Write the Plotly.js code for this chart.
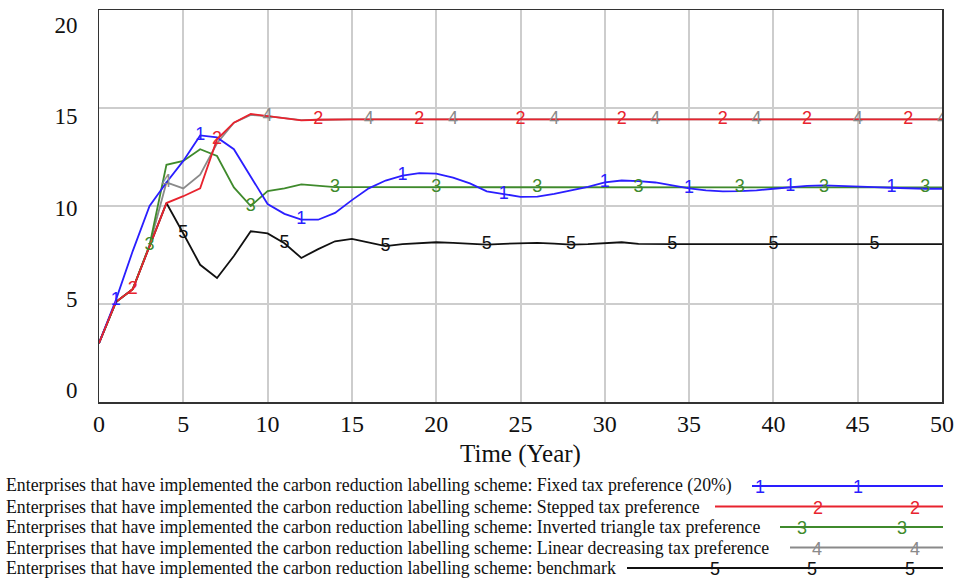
<!DOCTYPE html>
<html>
<head>
<meta charset="utf-8">
<script src="https://cdn.plot.ly/plotly-3.0.1.min.js"></script>
<style>html,body{margin:0;padding:0;background:#fff;}#chart{width:956px;height:581px;}</style>
</head>
<body>
<div id="chart"></div>
<script>
// ---- data ----
const years = Array.from({length: 51}, (_, i) => i);

const fixedTax = [3.0, 5.2, 7.7, 10.0, 11.2, 12.3, 13.6, 13.5, 12.9, 11.5,
  10.1, 9.6, 9.3, 9.3, 9.65, 10.3, 10.9, 11.3, 11.55, 11.68,
  11.65, 11.45, 11.15, 10.75, 10.6, 10.47, 10.48, 10.62, 10.8, 10.98,
  11.2, 11.3, 11.27, 11.2, 11.05, 10.9, 10.8, 10.75, 10.76, 10.8,
  10.88, 10.97, 11.03, 11.05, 11.03, 11.0, 10.96, 10.93, 10.9, 10.88, 10.88];

const steppedTax = [3.0, 5.1, 5.75, 8.0, 10.15, 10.5, 10.9, 13.4, 14.25, 14.7,
  14.58, 14.48, 14.37, 14.4, 14.42, 14.42, 14.42, 14.42, 14.42, 14.42,
  14.42, 14.42, 14.42, 14.42, 14.42, 14.42, 14.42, 14.42, 14.42, 14.42,
  14.42, 14.42, 14.42, 14.42, 14.42, 14.42, 14.42, 14.42, 14.42, 14.42,
  14.42, 14.42, 14.42, 14.42, 14.42, 14.42, 14.42, 14.42, 14.42, 14.42, 14.42];

const invertedTriangleTax = [3.0, 5.1, 5.75, 8.0, 12.1, 12.3, 12.9, 12.55, 10.95, 10.0,
  10.76, 10.9, 11.1, 11.03, 10.96, 10.96, 10.96, 10.96, 10.96, 10.96,
  10.96, 10.96, 10.96, 10.96, 10.96, 10.96, 10.96, 10.96, 10.96, 10.96,
  10.96, 10.96, 10.96, 10.96, 10.96, 10.96, 10.96, 10.96, 10.96, 10.96,
  10.96, 10.96, 10.96, 10.96, 10.96, 10.95, 10.95, 10.95, 10.95, 10.95, 10.95];

const linearDecreasingTax = [3.0, 5.1, 5.75, 8.0, 11.2, 10.9, 11.6, 13.2, 14.25, 14.65,
  14.58, 14.48, 14.38, 14.4, 14.42, 14.42, 14.42, 14.42, 14.42, 14.42,
  14.42, 14.42, 14.42, 14.42, 14.42, 14.42, 14.42, 14.42, 14.42, 14.42,
  14.42, 14.42, 14.42, 14.42, 14.42, 14.42, 14.42, 14.42, 14.42, 14.42,
  14.42, 14.42, 14.42, 14.42, 14.42, 14.42, 14.42, 14.42, 14.42, 14.42, 14.42];

const benchmark = [3.0, 5.1, 5.75, 8.0, 10.15, 8.6, 7.0, 6.33, 7.45, 8.71,
  8.6, 8.1, 7.35, 7.8, 8.2, 8.32, 8.15, 7.95, 8.05, 8.1,
  8.15, 8.12, 8.08, 8.03, 8.07, 8.1, 8.12, 8.08, 8.03, 8.05,
  8.1, 8.15, 8.07, 8.05, 8.05, 8.05, 8.05, 8.05, 8.05, 8.05,
  8.05, 8.05, 8.05, 8.05, 8.05, 8.05, 8.05, 8.05, 8.05, 8.05, 8.05];

// years where each series' identifying digit is printed on its curve
const labelYears1 = [1, 6, 12, 18, 24, 30, 35, 41, 47];
const labelYears2 = [2, 7, 13, 19, 25, 31, 37, 42, 48];
const labelYears3 = [3, 9, 14, 20, 26, 32, 38, 43, 49];
const labelYears4 = [4, 10, 16, 21, 27, 33, 39, 45, 50];
const labelYears5 = [5, 11, 17, 23, 28, 34, 40, 46];

const legendPrefix = "Enterprises that have implemented the carbon reduction labelling scheme: ";
const seriesNames = ["Fixed tax preference (20%)", "Stepped tax preference",
  "Inverted triangle tax preference", "Linear decreasing tax preference", "benchmark"];
const seriesDigits = ["1", "2", "3", "4", "5"];

const xTicks = [0, 5, 10, 15, 20, 25, 30, 35, 40, 45, 50];
const yTicks = [0, 5, 10, 15, 20];

// ---- styling ----
const colors = ["#2a1eff", "#e8232e", "#3f8a2c", "#8a8a8a", "#111111"];
const serif = "'Liberation Serif', 'Times New Roman', serif";
const sans = "'Liberation Sans', Arial, sans-serif";

const series = [fixedTax, steppedTax, invertedTriangleTax, linearDecreasingTax, benchmark];
const labelYears = [labelYears1, labelYears2, labelYears3, labelYears4, labelYears5];

const drawOrder = [3, 4, 2, 0, 1];
const traces = [];
drawOrder.forEach(i => {
  traces.push({
    x: years, y: series[i], type: 'scatter', mode: 'lines',
    line: {color: colors[i], width: 1.8}, hoverinfo: 'skip', showlegend: false
  });
});
drawOrder.forEach(i => {
  traces.push({
    x: labelYears[i], y: labelYears[i].map(t => series[i][t]),
    type: 'scatter', mode: 'text', text: labelYears[i].map(() => seriesDigits[i]),
    textposition: 'middle center',
    textfont: {family: sans, size: 18, color: colors[i]},
    hoverinfo: 'skip', showlegend: false
  });
});
// invisible trace so the label axis (Vensim-style evenly spread labels) is drawn
traces.push({x: [0], y: [0], yaxis: 'y2', type: 'scatter', mode: 'markers',
  marker: {opacity: 0}, hoverinfo: 'skip', showlegend: false});

// ---- custom legend below the plot ----
const L = 99, R = 14, T = 10, B = 179, W = 956, H = 581;
const pw = W - L - R, ph = H - T - B;
const px2x = p => (p - L) / pw;
const py2y = p => (H - B - p) / ph;

const legendRows = [486, 506.5, 527, 547.5, 568];
const legendLineStart = [752, 715, 780, 790, 627];
const legendDigitPos = [[760, 858], [818, 915], [802, 902], [817, 915], [715, 812, 910]];

const shapes = [];
const annotations = [];
legendRows.forEach((ry, i) => {
  annotations.push({
    xref: 'paper', yref: 'paper', x: px2x(4), y: py2y(ry),
    xanchor: 'left', yanchor: 'middle', showarrow: false,
    text: legendPrefix + seriesNames[i],
    font: {family: serif, size: 17.8, color: '#111'}
  });
  shapes.push({
    type: 'line', xref: 'paper', yref: 'paper',
    x0: px2x(legendLineStart[i]), x1: px2x(943), y0: py2y(ry), y1: py2y(ry),
    line: {color: colors[i], width: 1.8}
  });
  legendDigitPos[i].forEach(dx => {
    annotations.push({
      xref: 'paper', yref: 'paper', x: px2x(dx), y: py2y(ry + 1),
      xanchor: 'center', yanchor: 'middle', showarrow: false,
      text: seriesDigits[i], font: {family: sans, size: 18, color: colors[i]}
    });
  });
});

// label axis: values 0 and 20 sit at the pixel rows where the reference prints them
const labelLow = -12 / 18.25, labelHigh = 20 + 15 / 18.25;

const layout = {
  width: W, height: H,
  margin: {l: L, r: R, t: T, b: B, pad: 0},
  paper_bgcolor: '#fff', plot_bgcolor: '#fff',
  showlegend: false,
  xaxis: {
    range: [0, 50], tickvals: xTicks, ticktext: xTicks.map(String),
    showgrid: true, gridcolor: '#cdcdcd', gridwidth: 2, zeroline: false,
    showline: true, mirror: true, linecolor: '#333', linewidth: 1.5,
    ticks: '', ticklen: 0,
    tickfont: {family: serif, size: 24, color: '#111'},
    title: {text: 'Time (Year)', font: {family: serif, size: 25, color: '#111'}, standoff: 8}
  },
  yaxis: {
    range: [0, 20], tickvals: yTicks, showticklabels: false,
    showgrid: true, gridcolor: '#cdcdcd', gridwidth: 2, zeroline: false,
    showline: true, mirror: true, linecolor: '#333', linewidth: 1.5,
    ticks: ''
  },
  yaxis2: {
    overlaying: 'y', side: 'left', range: [labelLow, labelHigh],
    tickvals: yTicks, ticktext: yTicks.map(String),
    showgrid: false, zeroline: false, showline: false,
    ticks: 'outside', ticklen: 16, tickcolor: 'rgba(0,0,0,0)',
    tickfont: {family: serif, size: 23, color: '#111'}
  },
  shapes: shapes,
  annotations: annotations
};

Plotly.newPlot('chart', traces, layout, {staticPlot: true, displayModeBar: false});
</script>
</body>
</html>
